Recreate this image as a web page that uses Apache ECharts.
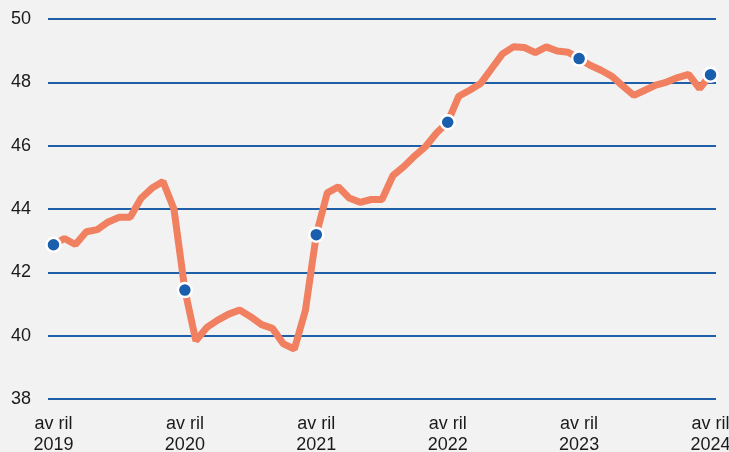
<!DOCTYPE html>
<html style="height: 100%">
<head>
  <meta charset="utf-8">
</head>
<body style="height: 100%; margin: 0; background: #f2f2f2">
  <div id="container" style="height: 100%"></div>

  <script type="text/javascript" src="https://cdn.jsdelivr.net/npm/echarts@6/dist/echarts.min.js"></script>
  <script type="text/javascript">
    // monthly, avril 2019 -> avril 2024
    var years = ['2019', '2020', '2021', '2022', '2023', '2024'];
    var values = [
      42.87, 43.07, 42.88, 43.28, 43.35, 43.59, 43.74, 43.74, 44.34, 44.66, 44.87, 44.0,
      41.44, 39.84, 40.26, 40.49, 40.68, 40.81, 40.6, 40.35, 40.23, 39.74, 39.58, 40.79,
      43.19, 44.51, 44.7, 44.35, 44.21, 44.3, 44.3, 45.06, 45.34, 45.68, 45.98, 46.41,
      46.74, 47.56, 47.75, 47.96, 48.43, 48.9, 49.12, 49.1, 48.94, 49.12, 48.99, 48.95,
      48.75, 48.54, 48.38, 48.19, 47.88, 47.59, 47.75, 47.91, 48.01, 48.15, 48.25, 47.8,
      48.24
    ];

    var categories = values.map(function (v, i) {
      return i % 12 === 0 ? 'av ril\n' + years[i / 12] : '';
    });
    var aprilPoints = values.map(function (v, i) {
      return i % 12 === 0 ? v : '-';
    });

    var dom = document.getElementById("container");
    var myChart = echarts.init(dom);

    var font = '"Liberation Sans", Arial, sans-serif';

    var option = {
      backgroundColor: '#f2f2f2',
      animation: false,
      grid: {
        left: 48,
        right: 13,
        top: 19,
        bottom: 53,
        outerBoundsMode: 'none'
      },
      xAxis: {
        type: 'category',
        data: categories,
        boundaryGap: true,
        axisLine: { show: false },
        axisTick: { show: false },
        axisLabel: {
          interval: function (i) { return i % 12 === 0; },
          color: '#1a1a1a',
          fontFamily: font,
          fontSize: 18,
          lineHeight: 21,
          margin: 15
        }
      },
      yAxis: {
        type: 'value',
        min: 38,
        max: 50,
        interval: 2,
        axisLine: { show: false },
        axisTick: { show: false },
        axisLabel: {
          color: '#1a1a1a',
          fontFamily: font,
          fontSize: 18,
          margin: 17
        },
        splitLine: {
          lineStyle: { color: '#1f5fa8', width: 2 }
        }
      },
      series: [
        {
          type: 'line',
          data: values,
          showSymbol: false,
          lineStyle: { color: '#f08060', width: 7 },
          z: 2
        },
        {
          type: 'line',
          data: aprilPoints,
          lineStyle: { width: 0 },
          symbol: 'circle',
          symbolSize: 14,
          itemStyle: { color: '#1a5fad', borderColor: '#ffffff', borderWidth: 2.5 },
          z: 3
        }
      ]
    };

    myChart.setOption(option);
  </script>
</body>
</html>
